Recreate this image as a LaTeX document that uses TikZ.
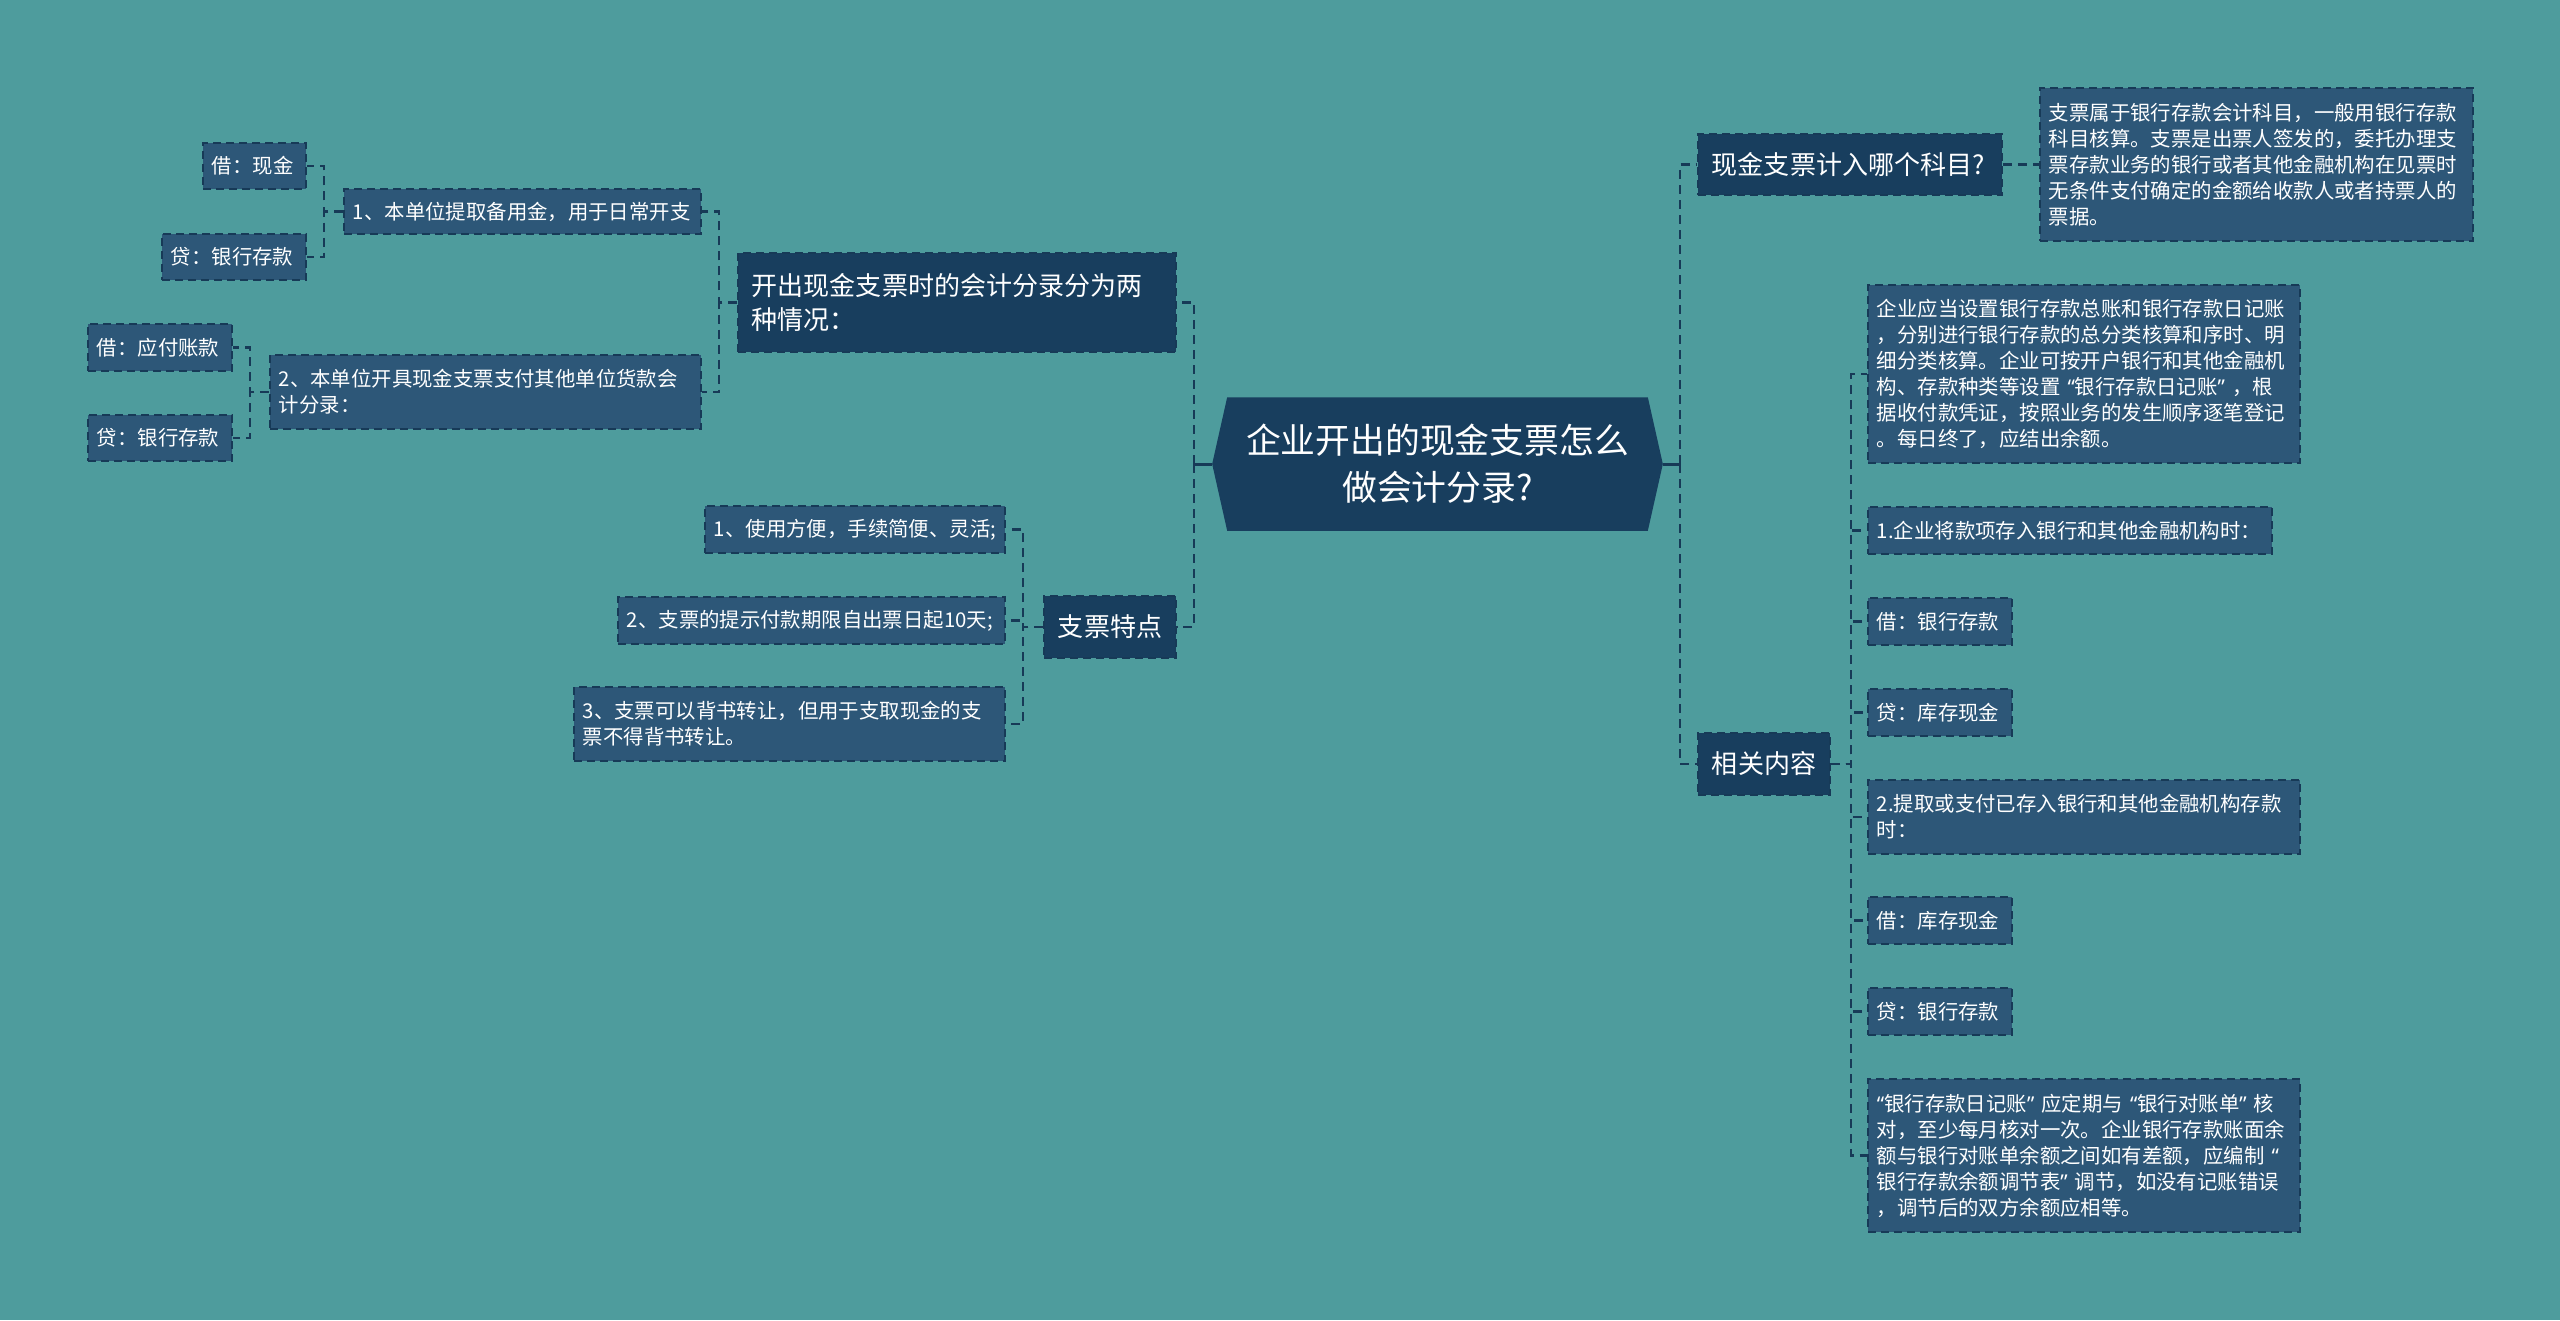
\documentclass[tikz,border=0pt]{standalone}
\usepackage{fontspec}
\setmainfont{Noto Sans CJK SC}
\newfontfamily\latina{Noto Sans}
\usepackage{tikz}
\definecolor{fondo}{HTML}{4E9C9D}
\definecolor{oscuro}{HTML}{183E5E}
\definecolor{medio}{HTML}{2D5778}
\definecolor{linea}{HTML}{173A57}
\newcommand{\abre}{\kern0.35em{\latina “}}
\newcommand{\cierra}{{\latina ”}\kern0.35em}
\pgfdeclarelayer{capa}
\pgfsetlayers{capa,main}

\begin{document}
\begin{tikzpicture}[x=0.01cm, y=-0.01cm,
  raiz/.style={text=white, font=\fontsize{9.9}{13.4}\selectfont,
    align=center, minimum width=4.49cm, minimum height=1.32cm, inner sep=0pt},
  rama/.style={fill=oscuro, draw=linea, line width=0.015cm,
    dash pattern=on 0.08cm off 0.05cm, text=white,
    font=\fontsize{7.4}{9.8}\selectfont, align=left,
    inner xsep=0.14cm, inner ysep=0pt},
  hoja/.style={fill=medio, draw=linea, line width=0.015cm,
    dash pattern=on 0.08cm off 0.05cm, text=white,
    font=\fontsize{5.8}{7.4}\selectfont, align=left,
    inner xsep=0.09cm, inner ysep=0pt},
  enlace/.style={draw=linea, line width=0.025cm,
    dash pattern=on 0.09cm off 0.06cm}
]
\useasboundingbox (0,0) rectangle (2560,1320);
\begin{pgfonlayer}{capa}
\fill[fondo] (0,0) rectangle (2560,1320);
\end{pgfonlayer}
% Tema central
\node[raiz] (raiz) at (1437.5,464) {企业开出的现金支票怎么\\做会计分录?};
\begin{pgfonlayer}{capa}
\fill[oscuro] ([xshift=0.15cm]raiz.north west) -- ([xshift=-0.15cm]raiz.north east)
  -- (raiz.east) -- ([xshift=-0.15cm]raiz.south east)
  -- ([xshift=0.15cm]raiz.south west) -- (raiz.west) -- cycle;
\end{pgfonlayer}
% Lado izquierdo
\node[rama, text width=4.10cm, minimum height=0.99cm] (dos) at (957,302.5)
  {开出现金支票时的会计分录分为两\\种情况：};
\node[rama, text width=1.04cm, minimum height=0.62cm] (rasgos) at (1110,627) {支票特点};
\node[hoja, text width=3.39cm, minimum height=0.45cm] (caso1) at (522.5,211.5)
  {1、本单位提取备用金，用于日常开支};
\node[hoja, text width=4.13cm, minimum height=0.74cm] (caso2) at (485.5,392)
  {2、本单位开具现金支票支付其他单位货款会\\计分录：};
\node[hoja, text width=0.85cm, minimum height=0.46cm] (c1debe) at (254.5,166) {借：现金};
\node[hoja, text width=1.26cm, minimum height=0.46cm] (c1haber) at (234,257) {贷：银行存款};
\node[hoja, text width=1.26cm, minimum height=0.47cm] (c2debe) at (160,347.5) {借：应付账款};
\node[hoja, text width=1.26cm, minimum height=0.46cm] (c2haber) at (160,438) {贷：银行存款};
\node[hoja, text width=2.82cm, minimum height=0.47cm] (r1) at (855,529.5)
  {1、使用方便，手续简便、灵活;};
\node[hoja, text width=3.69cm, minimum height=0.47cm] (r2) at (811.5,620.5)
  {2、支票的提示付款期限自出票日起10天;};
\node[hoja, text width=4.13cm, minimum height=0.74cm] (r3) at (789.5,724)
  {3、支票可以背书转让，但用于支取现金的支\\票不得背书转让。};
% Lado derecho
\node[rama, text width=2.76cm, minimum height=0.61cm] (cuenta) at (1850,164.5)
  {现金支票计入哪个科目?};
\node[hoja, text width=4.15cm, minimum height=1.53cm] (cuentatxt) at (2256.5,164.5)
  {支票属于银行存款会计科目，一般用银行存款\\科目核算。支票是出票人签发的，委托办理支\\票存款业务的银行或者其他金融机构在见票时\\无条件支付确定的金额给收款人或者持票人的\\票据。};
\node[rama, text width=1.04cm, minimum height=0.62cm] (rel) at (1764,764) {相关内容};
\node[hoja, text width=4.14cm, minimum height=1.78cm] (d1) at (2084,374)
  {企业应当设置银行存款总账和银行存款日记账\\，分别进行银行存款的总分类核算和序时、明\\细分类核算。企业可按开户银行和其他金融机\\构、存款种类等设置\abre 银行存款日记账\cierra ，根\\据收付款凭证，按照业务的发生顺序逐笔登记\\。每日终了，应结出余额。};
\node[hoja, text width=3.86cm, minimum height=0.47cm] (d2) at (2070,530.5)
  {1.企业将款项存入银行和其他金融机构时：};
\node[hoja, text width=1.26cm, minimum height=0.47cm] (d3) at (1940,621.5) {借：银行存款};
\node[hoja, text width=1.26cm, minimum height=0.47cm] (d4) at (1940,712.5) {贷：库存现金};
\node[hoja, text width=4.14cm, minimum height=0.74cm] (d5) at (2084,817)
  {2.提取或支付已存入银行和其他金融机构存款\\时：};
\node[hoja, text width=1.26cm, minimum height=0.47cm] (d6) at (1940,920.5) {借：库存现金};
\node[hoja, text width=1.26cm, minimum height=0.47cm] (d7) at (1940,1011.5) {贷：银行存款};
\node[hoja, text width=4.14cm, minimum height=1.53cm] (d8) at (2084,1155.5)
  {{\latina “}银行存款日记账\cierra 应定期与\abre 银行对账单\cierra 核\\对，至少每月核对一次。企业银行存款账面余\\额与银行对账单余额之间如有差额，应编制\abre\\银行存款余额调节表\cierra 调节，如没有记账错误\\，调节后的双方余额应相等。};
% Conectores
\coordinate (izq) at ([xshift=-0.18cm]raiz.west);
\coordinate (der) at ([xshift=0.17cm]raiz.east);
\draw[linea, line width=0.03cm] (raiz.west) -- (izq);
\draw[linea, line width=0.03cm] (raiz.east) -- (der);
\draw[enlace] (izq) |- (dos.east);
\draw[enlace] (izq) |- (rasgos.east);
\draw[enlace] (der) |- (cuenta.west);
\draw[enlace] (der) |- (rel.west);
\foreach \h in {caso1,caso2} \draw[enlace] (dos.west) -- ++(-18,0) |- (\h.east);
\foreach \h in {c1debe,c1haber} \draw[enlace] (caso1.west) -- ++(-19,0) |- (\h.east);
\foreach \h in {c2debe,c2haber} \draw[enlace] (caso2.west) -- ++(-19,0) |- (\h.east);
\foreach \h in {r1,r2,r3} \draw[enlace] (rasgos.west) -- ++(-20,0) |- (\h.east);
\draw[enlace] (cuenta.east) -- (cuentatxt.west);
\foreach \i in {1,...,8} \draw[enlace] (rel.east) -- ++(20,0) |- (d\i.west);
\end{tikzpicture}
\end{document}
